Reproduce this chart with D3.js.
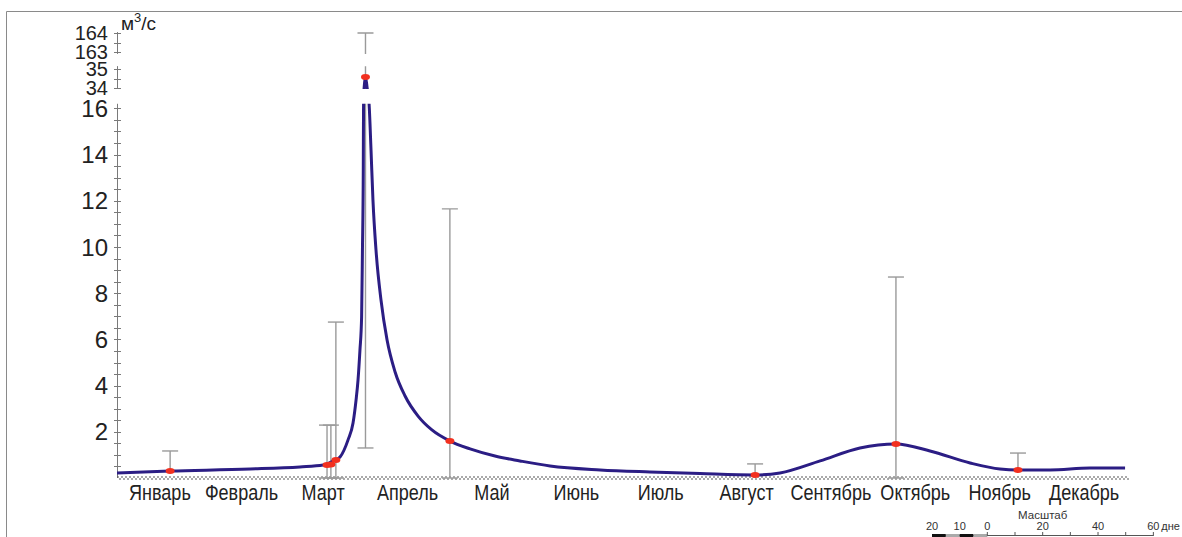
<!DOCTYPE html>
<html>
<head>
<meta charset="utf-8">
<script src="https://cdn.jsdelivr.net/npm/d3@7"></script>
<style>
  body { margin: 0; background: #fff; }
  svg { display: block; }
  text { font-family: "Liberation Sans", Arial, sans-serif; }
</style>
</head>
<body>
<svg id="chart" width="1182" height="537"></svg>
<script>
// Месяцы и положение подписей (середина месяца, сутки от начала года)
const monthNames = ["Январь", "Февраль", "Март", "Апрель", "Май", "Июнь",
                    "Июль", "Август", "Сентябрь", "Октябрь", "Ноябрь", "Декабрь"];
const monthMidDays = [15.5, 45, 74.5, 105, 135.5, 166, 196.5, 227.5, 258, 288.5, 319, 349.5];

// Наблюдённые средние расходы (м³/с) с диапазоном min–max
const obsDays = [19.2, 75.9, 77.3, 79.1, 89.8, 120.3, 230.6, 281.5, 325.6];
const obsFlow = [0.30, 0.56, 0.58, 0.78, 34.58, 1.60, 0.13, 1.47, 0.35];
const obsMin  = [0.30, 0, 0, 0, 1.30, 0, 0.13, 0, 0.35];
const obsMax  = [1.17, 2.29, 2.29, 6.75, 164.0, 11.65, 0.61, 8.70, 1.08];

// Сглаженный гидрограф (сутки, м³/с)
const curveDays = [0, 19.2, 48.1, 66.1, 74.5, 78.1, 80.6, 83.5, 85.3, 86.4, 87.1, 87.8,
                   88.4, 88.7, 89.0, 89.1, 89.3, 89.8, 90.4, 91.1, 91.8, 92.5, 93.6, 95.4,
                   97.6, 100.5, 104.1, 108.8, 113.8, 120.3, 127.6, 136.6, 145.6, 156.5,
                   174.6, 192.6, 210.7, 230.6, 239.6, 254.1, 268.5, 281.5, 293.8, 308.3,
                   319.1, 325.6, 337.2, 351.6, 364.3];
const curveFlow = [0.22, 0.30, 0.39, 0.48, 0.56, 0.74, 0.91, 1.65, 2.38, 3.38, 4.24, 5.54,
                   6.97, 9.87, 13.33, 16.19, 34.0, 34.58, 34.0, 16.19, 14.2, 12.03, 9.87, 7.71,
                   5.97, 4.59, 3.55, 2.68, 2.08, 1.60, 1.26, 0.95, 0.74, 0.52,
                   0.35, 0.26, 0.19, 0.13, 0.22, 0.74, 1.30, 1.47, 1.17, 0.65,
                   0.39, 0.35, 0.35, 0.43, 0.43];

// Ось Y с разрывами: участки значений и подписи на них
const axisBreaks = [[0, 16.2], [33.95, 35.15], [162.9, 164.05]];
const axisLabels = [[2, 4, 6, 8, 10, 12, 14, 16], [34, 35], [163, 164]];

// Линейный масштаб (сутки)
const scaleBarLabels = [20, 10, 0, 20, 40, 60];
const scaleBarValues = [-20, -10, 0, 20, 40, 60];

const svg = d3.select("#chart");

// рамка
svg.append("line").attr("x1", 6.5).attr("x2", 1182).attr("y1", 11.5).attr("y2", 11.5)
  .attr("stroke", "#8a8a8a").attr("stroke-width", 1);
svg.append("line").attr("x1", 6.5).attr("x2", 6.5).attr("y1", 11.5).attr("y2", 537)
  .attr("stroke", "#8a8a8a").attr("stroke-width", 1);

const x = d3.scaleLinear().domain([0, 365]).range([117, 1127]);

// пиксельная раскладка участков оси Y: опорное значение, его позиция, px на единицу
const segLayout = [
  { ref: 0,   at: 478, unit: 23.1 },
  { ref: 34,  at: 88,  unit: 19 },
  { ref: 163, at: 52,  unit: 19 }
];
const yDomain = [], yRange = [];
axisBreaks.forEach((b, i) => {
  const L = segLayout[i];
  b.forEach(v => { yDomain.push(v); yRange.push(L.at - (v - L.ref) * L.unit); });
});
const y = d3.scaleLinear().domain(yDomain).range(yRange);

// отсечение по участкам оси (в разрывах ничего не рисуется)
const defs = svg.append("defs");
const clip = defs.append("clipPath").attr("id", "bands");
axisBreaks.forEach((b, i) => {
  const top = y(b[1]) - (i === 2 ? 3 : 0);
  const bottom = i === 0 ? 500 : y(b[0]);
  clip.append("rect").attr("x", 0).attr("width", 1182).attr("y", top).attr("height", bottom - top);
});

// ось Y
const yAxisG = svg.append("g").attr("class", "y-axis");
axisBreaks.forEach((b, i) => {
  yAxisG.append("line").attr("x1", 117.5).attr("x2", 117.5)
    .attr("y1", y(b[0])).attr("y2", y(b[1]))
    .attr("stroke", "#7a7a7a").attr("stroke-width", 1);
  const ticks = d3.range(Math.ceil(b[0] * 2) / 2, b[1] + 1e-9, 0.5).filter(v => v > 0);
  yAxisG.selectAll(null).data(ticks).enter().append("line")
    .attr("x1", 114).attr("x2", 121)
    .attr("y1", d => Math.round(y(d)) + 0.5).attr("y2", d => Math.round(y(d)) + 0.5)
    .attr("stroke", "#7a7a7a").attr("stroke-width", 1);
  yAxisG.selectAll(null).data(axisLabels[i]).enter().append("text")
    .attr("x", 108).attr("y", d => y(d)).attr("dy", "0.36em")
    .attr("text-anchor", "end").attr("font-size", i === 0 ? 24 : 20).attr("fill", "#222")
    .text(d => d);
});

// единицы измерения
const unit = svg.append("text").attr("x", 121).attr("y", 30).attr("font-size", 19).attr("fill", "#222");
unit.append("tspan").text("м");
unit.append("tspan").attr("dy", -8).attr("font-size", 13).text("3");
unit.append("tspan").attr("dy", 8).text("/с");

// ось X: двойная штриховая линия
const xAxisG = svg.append("g").attr("class", "x-axis");
[[477, 0], [479, 2]].forEach(([yy, off]) => {
  xAxisG.append("line").attr("x1", x(0)).attr("x2", x(365) + 2)
    .attr("y1", yy).attr("y2", yy)
    .attr("stroke", "#555").attr("stroke-width", 1)
    .attr("stroke-dasharray", "2,2").attr("stroke-dashoffset", off);
});
xAxisG.selectAll(null).data(monthNames).enter().append("text")
  .attr("transform", (d, i) => `translate(${x(monthMidDays[i])},500) scale(0.82,1)`)
  .attr("text-anchor", "middle").attr("font-size", 22).attr("fill", "#222")
  .text(d => d);

const plot = svg.append("g").attr("clip-path", "url(#bands)");

// диапазоны min–max
const obs = obsDays.map((d, i) => ({ day: d, q: obsFlow[i], lo: obsMin[i], hi: obsMax[i] }));
const bars = plot.selectAll(".bar").data(obs).enter().append("g").attr("class", "bar")
  .attr("stroke", "#9a9a9a").attr("stroke-width", 1.4);
bars.append("line")
  .attr("x1", d => x(d.day)).attr("x2", d => x(d.day))
  .attr("y1", d => y(d.lo)).attr("y2", d => y(d.hi));
bars.append("line")
  .attr("x1", d => x(d.day) - 8).attr("x2", d => x(d.day) + 8)
  .attr("y1", d => y(d.hi)).attr("y2", d => y(d.hi));
bars.filter(d => d.lo < d.q).append("line")
  .attr("x1", d => x(d.day) - 8).attr("x2", d => x(d.day) + 8)
  .attr("y1", d => y(d.lo)).attr("y2", d => y(d.lo));

// гидрограф
const curvePts = curveDays.map((d, i) => [d, curveFlow[i]]);
plot.append("path")
  .attr("d", d3.line().x(d => x(d[0])).y(d => y(d[1])).curve(d3.curveMonotoneX)(curvePts))
  .attr("fill", "none").attr("stroke", "#2b1d84").attr("stroke-width", 3);

// точки наблюдений
svg.selectAll(".pt").data(obs).enter().append("ellipse").attr("class", "pt")
  .attr("cx", d => x(d.day)).attr("cy", d => y(d.q))
  .attr("rx", 4.5).attr("ry", 3).attr("fill", "#f2301f");

// масштаб
const sbUnit = (x(365) - x(0)) / 365;
const sb = d3.scaleLinear().domain([-20, 60]).range([932, 932 + 80 * sbUnit]);
const sbG = svg.append("g").attr("class", "scale-bar");
sbG.append("text").attr("x", sb(20)).attr("y", 519).attr("text-anchor", "middle")
  .attr("font-size", 11.5).attr("fill", "#333").text("Масштаб");
sbG.selectAll(null).data(scaleBarValues).enter().append("text")
  .attr("x", d => sb(d)).attr("y", 530).attr("text-anchor", "middle")
  .attr("font-size", 11).attr("fill", "#333")
  .text((d, i) => scaleBarLabels[i]);
sbG.append("text").attr("x", sb(60) + 8).attr("y", 530).attr("font-size", 11)
  .attr("fill", "#333").text("дне");
sbG.append("line").attr("x1", sb(-20)).attr("x2", sb(60)).attr("y1", 535.5).attr("y2", 535.5)
  .attr("stroke", "#555").attr("stroke-width", 1);
d3.range(-20, 0, 5).forEach((v, i) => {
  sbG.append("rect").attr("x", sb(v)).attr("width", sb(v + 5) - sb(v))
    .attr("y", 534).attr("height", 3).attr("fill", i % 2 === 0 ? "#111" : "#aaa");
});
sbG.selectAll(null).data(d3.range(0, 61, 10)).enter().append("line")
  .attr("x1", d => sb(d)).attr("x2", d => sb(d)).attr("y1", 532).attr("y2", 536)
  .attr("stroke", "#555").attr("stroke-width", 1);
</script>
</body>
</html>
